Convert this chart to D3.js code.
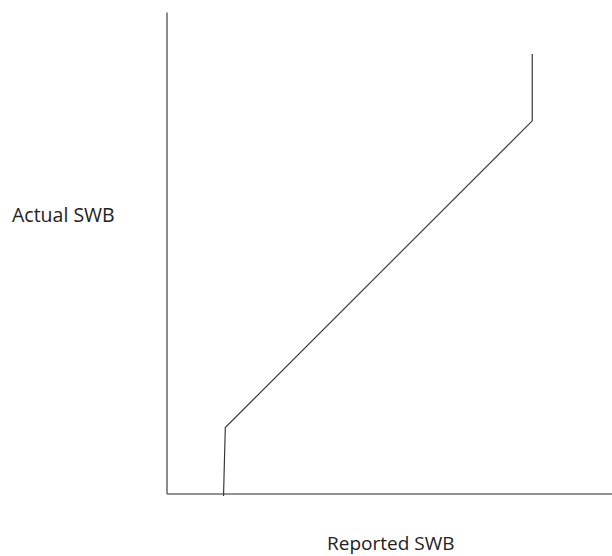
<!DOCTYPE html>
<html><head><meta charset="utf-8">
<script src="https://cdn.jsdelivr.net/npm/d3@7"></script>
<style>body{margin:0;background:#fff}svg{display:block}</style>
</head><body>
<svg id="c" width="612" height="556"></svg>
<script>
const xLabel = "Reported SWB";
const yLabel = "Actual SWB";
const reported = [1.28, 1.32, 8.21, 8.21];
const actual   = [-0.05, 1.37, 7.74, 9.13];

const svg = d3.select("#c");
const x = d3.scaleLinear().domain([0, 10]).range([166.5, 612]);
const y = d3.scaleLinear().domain([0, 10]).range([493.5, 12]);

svg.append("g").attr("transform", `translate(0,${y(0)})`)
  .call(d3.axisBottom(x).tickValues([]).tickSizeOuter(0));
svg.append("g").attr("transform", `translate(${x(0)},0)`)
  .call(d3.axisLeft(y).tickValues([]).tickSizeOuter(0));
svg.selectAll(".domain").attr("stroke", "#6e6e6e").attr("stroke-width", 1.6);

const pts = reported.map((r, i) => [r, actual[i]]);
svg.append("path").datum(pts)
  .attr("fill", "none").attr("stroke", "#3a3a3a").attr("stroke-width", 1.2)
  .attr("d", d3.line().x(d => x(d[0])).y(d => y(d[1])));

svg.append("text").attr("x", 12).attr("y", 222)
  .attr("font-family", "Open Sans").attr("font-size", 19.5).attr("fill", "#222")
  .text(yLabel);
svg.append("text").attr("x", 327).attr("y", 550)
  .attr("font-family", "Open Sans").attr("font-size", 19).attr("fill", "#222")
  .text(xLabel);
</script>
</body></html>
